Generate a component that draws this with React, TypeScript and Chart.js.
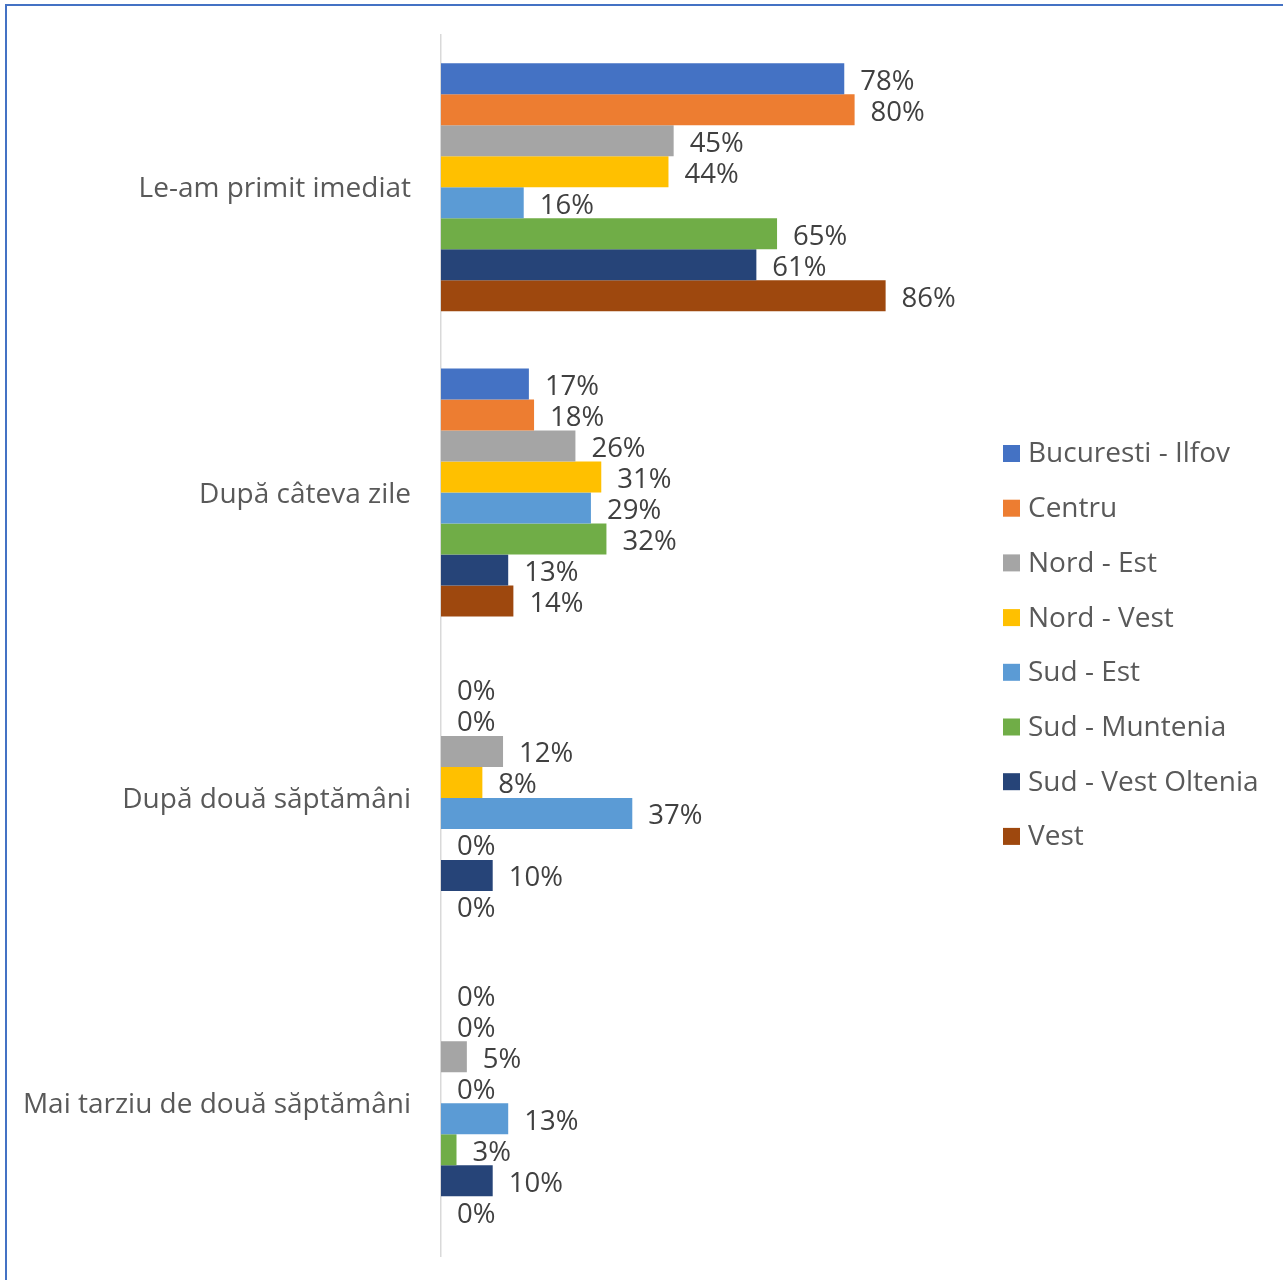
import React, { useEffect, useRef } from "react";
import { Chart, registerables } from "chart.js";

Chart.register(...registerables);

const categories = [
  "Le-am primit imediat",
  "După câteva zile",
  "După două săptămâni",
  "Mai tarziu de două săptămâni",
];

const seriesNames = [
  "Bucuresti - Ilfov",
  "Centru",
  "Nord - Est",
  "Nord - Vest",
  "Sud - Est",
  "Sud - Muntenia",
  "Sud - Vest Oltenia",
  "Vest",
];

const seriesColors = [
  "#4472C4",
  "#ED7D31",
  "#A5A5A5",
  "#FFC000",
  "#5B9BD5",
  "#70AD47",
  "#264478",
  "#9E480E",
];

const bucurestiIlfov = [78, 17, 0, 0];
const centru = [80, 18, 0, 0];
const nordEst = [45, 26, 12, 5];
const nordVest = [44, 31, 8, 0];
const sudEst = [16, 29, 37, 13];
const sudMuntenia = [65, 32, 0, 3];
const sudVestOltenia = [61, 13, 10, 10];
const vest = [86, 14, 0, 0];

const seriesValues = [
  bucurestiIlfov,
  centru,
  nordEst,
  nordVest,
  sudEst,
  sudMuntenia,
  sudVestOltenia,
  vest,
];

const FONT = "'Open Sans', sans-serif";

const labelPlugin = {
  id: "valueLabels",
  afterDatasetsDraw(chart: any) {
    const ctx = chart.ctx;
    ctx.save();
    ctx.font = `27.5px ${FONT}`;
    ctx.fillStyle = "#404040";
    ctx.textBaseline = "middle";
    ctx.textAlign = "left";
    chart.data.datasets.forEach((ds: any, i: number) => {
      const meta = chart.getDatasetMeta(i);
      meta.data.forEach((bar: any, j: number) => {
        const v = ds.data[j];
        ctx.fillText(`${v}%`, bar.x + 16, bar.y + 3);
      });
    });
    ctx.restore();
  },
};

const legendPlugin = {
  id: "customLegend",
  afterDraw(chart: any) {
    const ctx = chart.ctx;
    ctx.save();
    ctx.font = `28px ${FONT}`;
    ctx.textBaseline = "middle";
    ctx.textAlign = "left";
    seriesNames.forEach((name, i) => {
      const y = 453 + i * 54.7;
      ctx.fillStyle = seriesColors[i];
      ctx.fillRect(1003, y - 8, 17, 17);
      ctx.fillStyle = "#595959";
      ctx.fillText(name, 1028, y + 1.5);
    });
    ctx.restore();
  },
};

export default function App() {
  const ref = useRef<HTMLCanvasElement>(null);

  useEffect(() => {
    if (!ref.current) return;
    const chart = new Chart(ref.current, {
      type: "bar",
      data: {
        labels: categories,
        datasets: seriesNames.map((name, i) => ({
          label: name,
          data: seriesValues[i].map((v) => v),
          backgroundColor: seriesColors[i],
          borderWidth: 0,
          barPercentage: 1,
          categoryPercentage: 0.812,
        })),
      },
      options: {
        indexAxis: "y",
        responsive: false,
        animation: false,
        layout: { padding: { left: 0, top: 34.5, right: 325, bottom: 24 } },
        plugins: {
          legend: { display: false },
          tooltip: { enabled: false },
        },
        scales: {
          x: {
            display: false,
            min: 0,
            max: 100,
          },
          y: {
            afterFit: (scale: any) => {
              scale.width = 441;
              scale.paddingTop = 0;
              scale.paddingBottom = 0;
            },
            grid: { display: false, drawTicks: false },
            border: { display: true, color: "#d9d9d9", width: 1.5 },
            ticks: {
              padding: 30,
              labelOffset: 2,
              color: "#595959",
              font: { family: FONT, size: 28 },
            },
          },
        },
      },
      plugins: [labelPlugin, legendPlugin],
    });
    return () => chart.destroy();
  }, []);

  return (
    <div
      style={{
        position: "fixed",
        left: 0,
        top: 0,
        width: 1283,
        height: 1280,
        background: "#fff",
        overflow: "hidden",
      }}
    >
      <div
        style={{
          position: "absolute",
          left: 5,
          top: 4,
          width: 1400,
          height: 1400,
          borderLeft: "2px solid #4472C4",
          borderTop: "2px solid #4472C4",
        }}
      />
      <canvas
        ref={ref}
        width={1283}
        height={1280}
        style={{ position: "absolute", left: 0, top: 0 }}
      />
    </div>
  );
}
